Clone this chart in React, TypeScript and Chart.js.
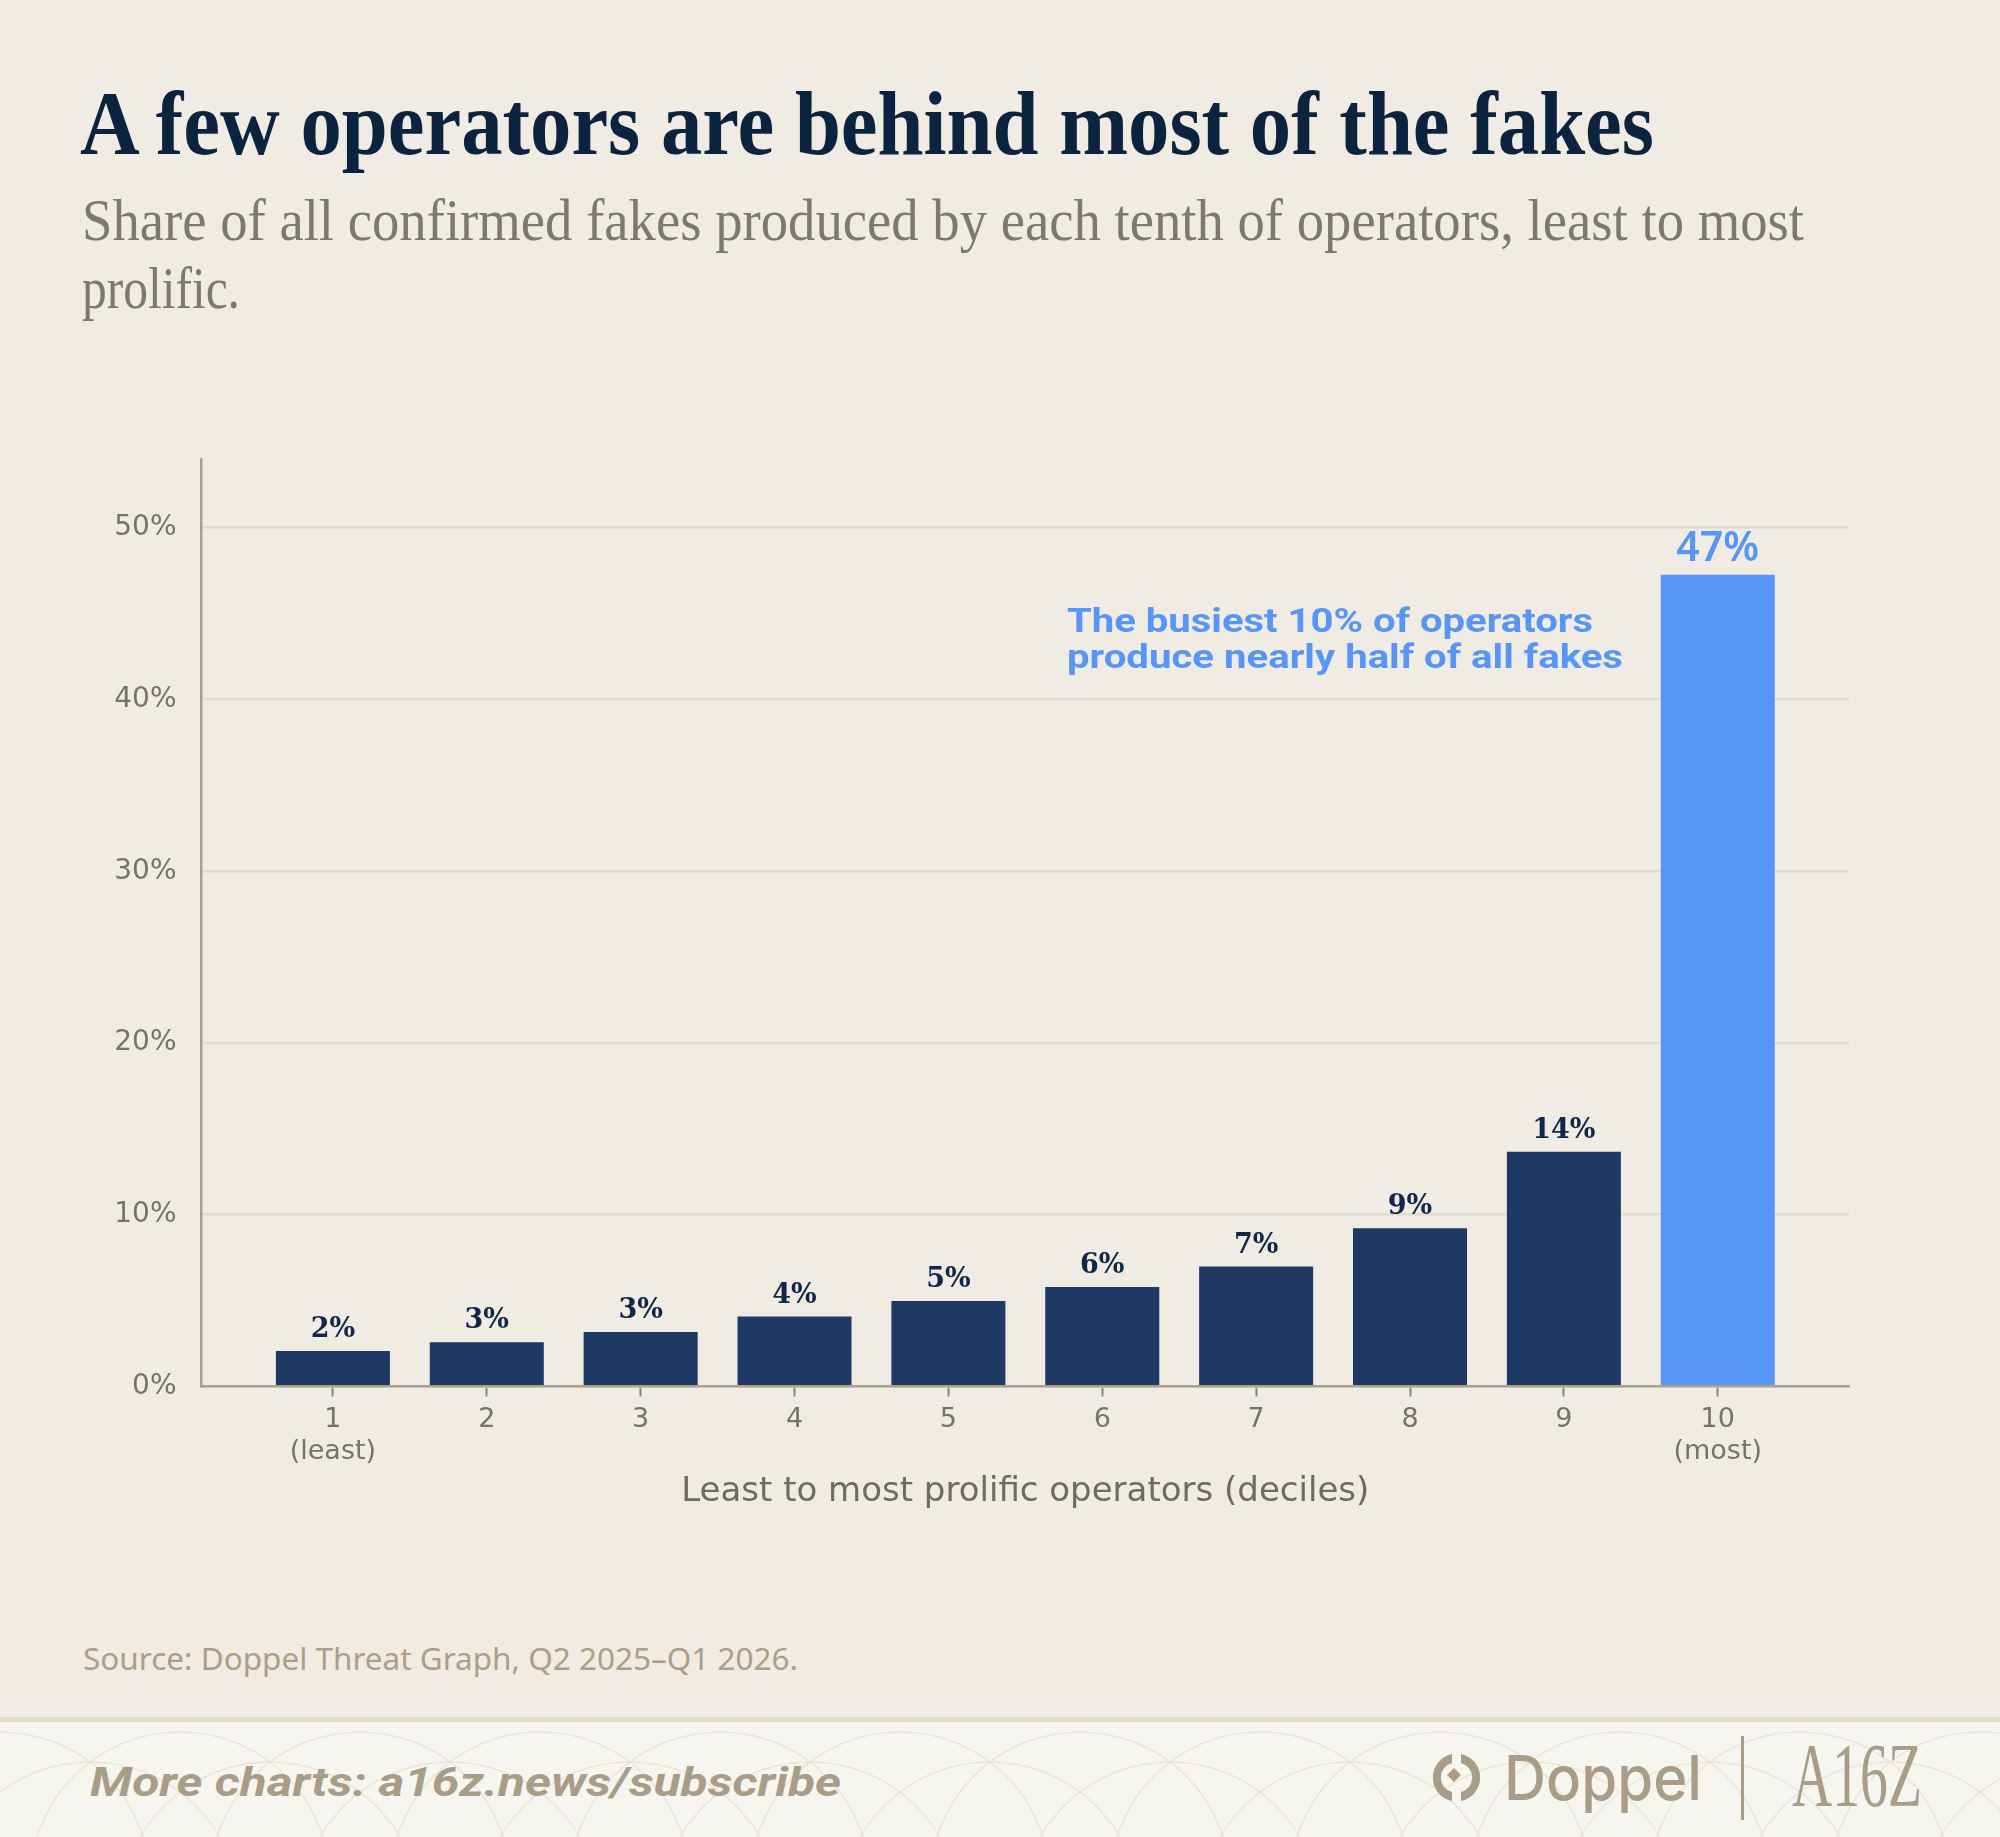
import React, { useEffect, useLayoutEffect, useRef } from 'react';
import { Chart, registerables } from 'chart.js';

Chart.register(...registerables);

// ---------- data ----------
const DECILES = [1, 2, 3, 4, 5, 6, 7, 8, 9, 10];
const TICK_LABELS = [['1', '(least)'], ['2'], ['3'], ['4'], ['5'], ['6'], ['7'], ['8'], ['9'], ['10', '(most)']];
const SHARE = [2.07, 2.57, 3.17, 4.07, 4.98, 5.79, 6.98, 9.21, 13.67, 47.26];
const Y_TICKS = [0, 10, 20, 30, 40, 50];
const HIGHLIGHT = 9;

const TITLE = 'A few operators are behind most of the fakes';
const SUBTITLE_1 = 'Share of all confirmed fakes produced by each tenth of operators, least to most';
const SUBTITLE_2 = 'prolific.';
const X_TITLE = 'Least to most prolific operators (deciles)';
const NOTE_1 = 'The busiest 10% of operators';
const NOTE_2 = 'produce nearly half of all fakes';
const SOURCE = 'Source: Doppel Threat Graph, Q2 2025\u2013Q1 2026.';
const MORE = 'More charts: a16z.news/subscribe';

// ---------- colours ----------
const BG = '#f0ece4';
const NAVY = '#1e3964';
const BLUE = '#5795f6';
const LABEL_NAVY = '#0f2748';
const TAN = '#a99d87';

type TxtProps = {
  x: number;
  baseline: number;
  width?: number;
  style: React.CSSProperties;
  children: React.ReactNode;
};

function Txt({ x, baseline, width, style, children }: TxtProps) {
  const outer = useRef<HTMLDivElement>(null);
  const inner = useRef<HTMLSpanElement>(null);
  const marker = useRef<HTMLSpanElement>(null);
  useLayoutEffect(() => {
    const run = () => {
      const o = outer.current, s = inner.current, m = marker.current;
      if (!o || !s || !m) return;
      o.style.top = '0px';
      s.style.transform = 'none';
      const oR = o.getBoundingClientRect();
      const mR = m.getBoundingClientRect();
      o.style.top = baseline - (mR.bottom - oR.top) + 'px';
      if (width) {
        const w = s.getBoundingClientRect().width;
        if (w > 0) s.style.transform = `scaleX(${width / w})`;
      }
    };
    run();
    if ((document as any).fonts && (document as any).fonts.ready) (document as any).fonts.ready.then(run);
  }, [x, baseline, width]);
  return (
    <div ref={outer} style={{ position: 'absolute', left: x, top: 0, whiteSpace: 'nowrap', lineHeight: 'normal', ...style }}>
      <span ref={inner} style={{ display: 'inline-block', transformOrigin: '0 50%' }}>
        {children}
        <span ref={marker} style={{ display: 'inline-block', width: 0, height: 0 }} />
      </span>
    </div>
  );
}

const valueLabels = {
  id: 'valueLabels',
  afterDatasetsDraw(chart: any) {
    const ctx = chart.ctx;
    const meta = chart.getDatasetMeta(0);
    meta.data.forEach((bar: any, i: number) => {
      const hi = i === HIGHLIGHT;
      ctx.save();
      ctx.font = hi ? '600 41px "Noto Sans"' : 'bold 27px "DejaVu Serif"';
      ctx.fillStyle = hi ? BLUE : LABEL_NAVY;
      ctx.textAlign = 'center';
      ctx.textBaseline = 'alphabetic';
      ctx.fillText(Math.round(SHARE[i]) + '%', bar.x, bar.y - 14);
      ctx.restore();
    });
  },
};

function BarChart() {
  const ref = useRef<HTMLCanvasElement>(null);
  useEffect(() => {
    if (!ref.current) return;
    const chart = new Chart(ref.current, {
      type: 'bar',
      data: {
        datasets: [
          {
            data: DECILES.map((d, i) => ({ x: d, y: SHARE[i] })),
            backgroundColor: DECILES.map((_, i) => (i === HIGHLIGHT ? BLUE : NAVY)),
            borderWidth: 0,
            barPercentage: 0.741,
            categoryPercentage: 1,
          } as any,
        ],
      },
      options: {
        animation: false,
        responsive: false,
        maintainAspectRatio: false,
        devicePixelRatio: 1,
        layout: { padding: { left: 0, top: 59, right: 151, bottom: 0 } },
        plugins: {
          legend: { display: false },
          tooltip: { enabled: false },
        },
        scales: {
          x: {
            type: 'linear',
            offset: false,
            min: 0.146,
            max: 10.853,
            afterBuildTicks: (s: any) => {
              s.ticks = DECILES.map((v) => ({ value: v }));
            },
            afterFit: (s: any) => {
              s.height = 163.5;
            },
            ticks: {
              autoSkip: false,
              maxRotation: 0,
              padding: 7,
              color: '#77726b',
              font: { family: 'DejaVu Sans', size: 27, lineHeight: 1.2 },
              callback: (v: any) => {
                const i = DECILES.indexOf(Number(v));
                return i >= 0 ? TICK_LABELS[i] : '';
              },
            },
            grid: { display: true, offset: false, drawOnChartArea: false, drawTicks: true, tickLength: 10, tickColor: '#8d877d', tickWidth: 2 },
            border: { display: true, color: '#ab9f8b', width: 2.5, z: 1 },
            title: {
              display: true,
              text: X_TITLE,
              color: '#6f6a63',
              font: { family: 'DejaVu Sans', size: 34, lineHeight: 1.2 },
              padding: { top: 0, bottom: 37 },
            },
          },
          y: {
            min: 0,
            max: 54,
            afterBuildTicks: (s: any) => {
              s.ticks = Y_TICKS.map((v) => ({ value: v }));
            },
            afterFit: (s: any) => {
              s.width = 201.5;
            },
            ticks: {
              padding: 25,
              color: '#77726b',
              font: { family: 'DejaVu Sans', size: 28 },
              callback: (v: any) => v + '%',
            },
            grid: { color: '#e3dccb', lineWidth: 2.5, drawTicks: false },
            border: { display: true, color: '#ab9f8b', width: 2.5, z: 1 },
          },
        },
      } as any,
      plugins: [valueLabels],
    });
    return () => chart.destroy();
  }, []);
  return (
    <canvas
      ref={ref}
      width={2000}
      height={1150}
      style={{ position: 'absolute', left: 0, top: 400, width: 2000, height: 1150 }}
    />
  );
}

function DoppelIcon() {
  return (
    <svg width={53} height={51} viewBox="0 0 53 51" style={{ position: 'absolute', left: 1430, top: 1752 }}>
      <path d="M22 2 A24 24 0 0 0 22 49 L22 40 A15 15 0 0 1 22 11 Z" fill={TAN} />
      <path d="M31 2 A24 24 0 0 1 31 49 L31 40 A15 15 0 0 0 31 11 Z" fill={TAN} />
      <path d="M24 16 L31 23 L24 30 L17 23 Z" fill={TAN} />
    </svg>
  );
}

const PATTERN_X = [0, 180, 360, 540, 720, 900, 1080, 1260, 1440, 1620, 1800, 1980];

function FooterPattern() {
  return (
    <svg width={2000} height={115} style={{ position: 'absolute', left: 0, top: 1722 }}>
      {PATTERN_X.map((cx) => (
        <g key={cx} fill="none" stroke="#ebe5d8" strokeWidth={1.5}>
          <circle cx={cx} cy={160} r={150} />
          <circle cx={cx + 90} cy={190} r={150} />
        </g>
      ))}
    </svg>
  );
}

export default function App() {
  useLayoutEffect(() => {
    document.body.style.margin = '0';
  }, []);
  return (
    <div style={{ position: 'relative', width: 2000, height: 1837, background: BG, overflow: 'hidden' }}>
      <Txt x={80} baseline={154} width={1574} style={{ fontFamily: '"Liberation Serif", serif', fontWeight: 700, fontSize: 90, color: '#0c2340' }}>
        {TITLE}
      </Txt>
      <Txt x={82} baseline={240} width={1722} style={{ fontFamily: '"Liberation Serif", serif', fontWeight: 400, fontSize: 59, color: '#7d7972' }}>
        {SUBTITLE_1}
      </Txt>
      <Txt x={82} baseline={308} width={158} style={{ fontFamily: '"Liberation Serif", serif', fontWeight: 400, fontSize: 59, color: '#7d7972' }}>
        {SUBTITLE_2}
      </Txt>

      <BarChart />

      <Txt x={1067} baseline={632} width={526} style={{ fontFamily: 'Roboto, sans-serif', fontWeight: 700, fontSize: 34, color: BLUE }}>
        {NOTE_1}
      </Txt>
      <Txt x={1067} baseline={668} width={556} style={{ fontFamily: 'Roboto, sans-serif', fontWeight: 700, fontSize: 34, color: BLUE }}>
        {NOTE_2}
      </Txt>

      <Txt x={83} baseline={1670} width={715} style={{ fontFamily: '"Noto Sans", sans-serif', fontWeight: 400, fontSize: 30, color: '#ab9f8a' }}>
        {SOURCE}
      </Txt>

      <div style={{ position: 'absolute', left: 0, top: 1717, width: 2000, height: 120, background: '#f7f5f0', borderTop: '5px solid #e3dccb', boxSizing: 'border-box' }} />
      <FooterPattern />

      <Txt x={90} baseline={1796} width={751} style={{ fontFamily: 'Roboto, sans-serif', fontWeight: 700, fontStyle: 'italic', fontSize: 41, color: TAN }}>
        {MORE}
      </Txt>

      <DoppelIcon />
      <Txt x={1504} baseline={1800} width={198} style={{ fontFamily: 'Inter, sans-serif', fontWeight: 500, fontSize: 62, color: TAN }}>
        Doppel
      </Txt>
      <div style={{ position: 'absolute', left: 1741, top: 1736, width: 3, height: 84, background: TAN }} />
      <Txt x={1792} baseline={1806} width={130} style={{ fontFamily: '"Liberation Serif", serif', fontWeight: 400, fontSize: 92, color: TAN }}>
        A16Z
      </Txt>
    </div>
  );
}
